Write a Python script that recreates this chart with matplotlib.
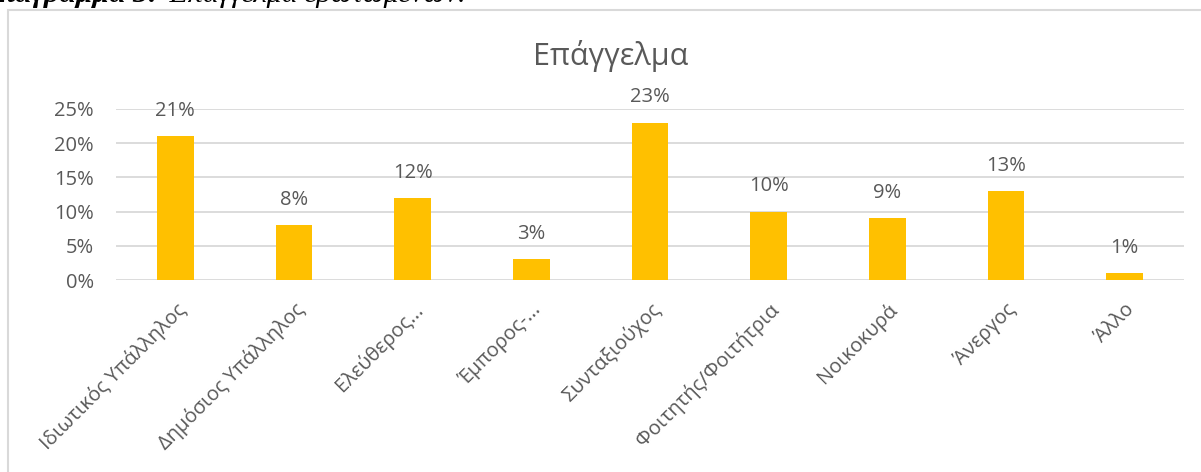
import matplotlib
matplotlib.use("Agg")
import matplotlib.pyplot as plt
from matplotlib.patches import Rectangle
from matplotlib.ticker import PercentFormatter

categories = ["Ιδιωτικός Υπάλληλος", "Δημόσιος Υπάλληλος", "Ελεύθερος...",
              "Έμπορος-...", "Συνταξιούχος", "Φοιτητής/Φοιτήτρια",
              "Νοικοκυρά", "Άνεργος", "Άλλο"]
values = [21, 8, 12, 3, 23, 10, 9, 13, 1]
yticks = [0, 5, 10, 15, 20, 25]
title = "Επάγγελμα"
caption_bold = "Διάγραμμα 3:"
caption_rest = " Επάγγελμα ερωτώμενων."

W, H = 1201, 472
plt.rcParams['font.family'] = ['Open Sans', 'DejaVu Sans']
fig = plt.figure(figsize=(W / 100, H / 100), dpi=100)

grey = "#595959"
bar_color = "#FFC000"
grid_color = "#D9D9D9"

# chart border
fig.patches.append(Rectangle((8 / W, -0.1), 1.2, (H - 10) / H + 0.1,
                             transform=fig.transFigure, fill=False,
                             edgecolor=grid_color, linewidth=1.5))

# caption above the chart (clipped at top)
base_y = (H - 2) / H
t1 = fig.text(-12 / W, base_y, caption_bold, family=['Liberation Serif'],
              weight='bold', style='italic', fontsize=21.5, va='baseline',
              ha='left', color='black')
fig.canvas.draw()
bb = t1.get_window_extent()
fig.text((bb.x1 + 4) / W, base_y, caption_rest, family=['Liberation Serif'],
         style='italic', fontsize=21.5, va='baseline', ha='left', color='black')

ax = fig.add_axes([116 / W, (H - 280) / H, (1184 - 116) / W, (280 - 109) / H])
x = range(len(categories))
ax.bar(x, values, width=0.31, color=bar_color, zorder=3)
ax.set_xlim(-0.5, len(categories) - 0.5)
ax.set_ylim(0, 25)
ax.set_yticks(yticks)
ax.yaxis.set_major_formatter(PercentFormatter(decimals=0))
ax.grid(axis='y', color=grid_color, linewidth=1.3, zorder=0)
for s in ax.spines.values():
    s.set_visible(False)
ax.tick_params(axis='both', length=0, colors=grey, labelsize=14.5)
ax.tick_params(axis='y', pad=16)
ax.set_xticks(list(x))
ax.set_xticklabels(categories, rotation=45, ha='right', rotation_mode='anchor',
                   fontsize=14.5, color=grey)
ax.tick_params(axis='x', pad=14)
for xi, v in zip(x, values):
    ax.annotate(f"{v}%", (xi, v), xytext=(0, 11), textcoords='offset points',
                ha='center', va='bottom', fontsize=14.5, color=grey)

fig.text(611 / W, (H - 56) / H, title, ha='center', va='center',
         fontsize=22, color=grey)

fig.savefig("out.png", dpi=100)
